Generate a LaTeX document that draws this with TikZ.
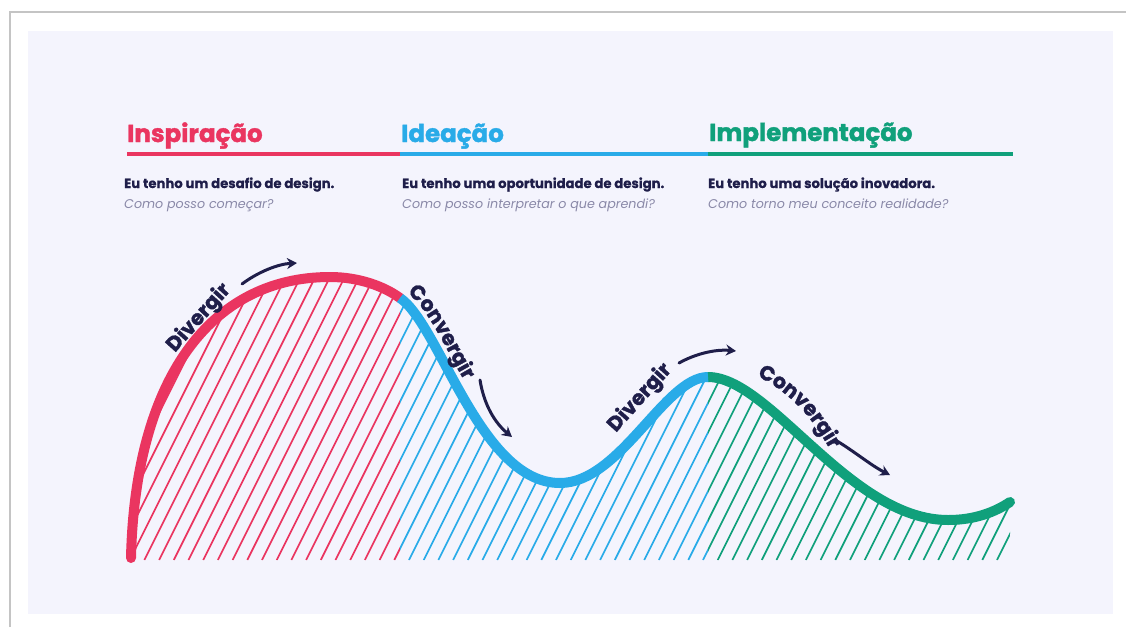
\documentclass[tikz,border=0pt]{standalone}
\usepackage{fontspec}
\setmainfont{Poppins}
\newfontfamily\heavyfont{Poppins}[BoldFeatures={FakeBold=1.6}]
\newfontfamily\semifont{Poppins}[BoldFeatures={FakeBold=0.6}]
\usetikzlibrary{arrows.meta,decorations.text}
\definecolor{cred}{HTML}{EA3560}
\definecolor{cblue}{HTML}{29ABE8}
\definecolor{cgreen}{HTML}{10A07B}
\definecolor{cnavy}{HTML}{1F1E4A}
\definecolor{cgray}{HTML}{8A89A8}
\definecolor{cbg}{HTML}{F4F4FD}
\definecolor{cframe}{HTML}{C4C4C4}
\newcommand{\labelfont}{\heavyfont\bfseries\fontsize{20.5}{22}\selectfont}
\tikzset{
  heading/.style={anchor=base west, inner sep=0pt, font=\heavyfont\bfseries\fontsize{24.5}{27}\selectfont},
  lineA/.style={anchor=base west, inner sep=0pt, text=cnavy, font=\semifont\bfseries\fontsize{13.2}{15}\selectfont},
  lineB/.style={anchor=base west, inner sep=0pt, text=cgray, font=\fontsize{12.7}{15}\selectfont\itshape},
  rule/.style={line width=3.5pt},
  curvelabel/.style={inner sep=0pt, text=cnavy, font=\labelfont},
  arr/.style={cnavy, line width=3pt, line cap=round, -{Stealth[length=10pt,width=11pt]}},
  hatch/.style={line width=1.7pt},
  curve/.style={line width=10pt},
  pathlabel/.style={decorate, decoration={text along path, text align={left indent=#1},
    text color=cnavy, text={|\labelfont|Convergir}}}
}
\begin{document}
\begin{tikzpicture}[x=1pt,y=-1pt]
\useasboundingbox (0,0) rectangle (1126,627);
\fill[white] (0,0) rectangle (1126,627);
% card frame
\draw[cframe, line width=2.5pt] (10,627) -- (10,12) -- (1126,12);
\fill[cbg] (28,31) rectangle (1113,614);

% headings
\node[heading, text=cred] (h1) at (127,142) {Inspiração};
\node[heading, text=cblue] (h2) at (401,142) {Ideação};
\node[heading, text=cgreen] (h3) at (709,141) {Implementação};
\coordinate (r0) at (127,154);
\coordinate (r1) at (400,154);
\coordinate (r2) at (708,154);
\coordinate (r3) at (1013,154);
\draw[rule, cred] (r0) -- (r1);
\draw[rule, cblue] (r1) -- (r2);
\draw[rule, cgreen] (r2) -- (r3);

\node[lineA] (a1) at (124,188) {Eu tenho um desafio de design.};
\node[lineB] (b1) at (124,208) {Como posso começar?};
\node[lineA] (a2) at (402,188) {Eu tenho uma oportunidade de design.};
\node[lineB] (b2) at (402,208) {Como posso interpretar o que aprendi?};
\node[lineA] (a3) at (708,188) {Eu tenho uma solução inovadora.};
\node[lineB] (b3) at (708,208) {Como torno meu conceito realidade?};

% curve key points
\coordinate (p0) at (131,558);
\coordinate (pk1) at (330,277);
\coordinate (j1) at (400,298);
\coordinate (t1) at (560,483);
\coordinate (j2) at (708,377);
\coordinate (t2) at (948,520);
\coordinate (pe) at (1010,502);

% hatching
\def\region{(p0) .. controls (135,380) and (210,277) .. (pk1)
  .. controls (360,277) and (385,287) .. (j1)
  .. controls (440,325) and (480,483) .. (t1)
  .. controls (620,483) and (665,377) .. (j2)
  .. controls (770,377) and (850,520) .. (t2)
  .. controls (975,520) and (995,512) .. (pe)
  -- (1010,560) -- (131,560) -- cycle}
\begin{scope}
  \clip \region;
  \begin{scope}
    \clip (0,0) rectangle (400,627);
    \foreach \k in {0,...,66} {\draw[hatch, cred] ({997-14.7*\k},560) -- ++(200,-400);}
  \end{scope}
  \begin{scope}
    \clip (400,0) rectangle (708,627);
    \foreach \k in {0,...,66} {\draw[hatch, cblue] ({997-14.7*\k},560) -- ++(200,-400);}
  \end{scope}
  \begin{scope}
    \clip (708,0) rectangle (1126,627);
    \foreach \k in {0,...,66} {\draw[hatch, cgreen] ({997-14.7*\k},560) -- ++(200,-400);}
  \end{scope}
\end{scope}

% curve strokes
\draw[curve, cgreen, line cap=round] (j2) .. controls (770,377) and (850,520) .. (t2)
  .. controls (975,520) and (995,512) .. (pe);
\draw[curve, cred, line cap=round] (p0) .. controls (135,380) and (210,277) .. (pk1)
  .. controls (360,277) and (385,287) .. (j1);
\draw[curve, cblue] (j1) .. controls (440,325) and (480,483) .. (t1)
  .. controls (620,483) and (665,377) .. (j2);

% labels
\node[curvelabel, rotate=48] (d1) at (199,318) {Divergir};
\node[curvelabel, rotate=48] (d2) at (640,398) {Divergir};
\path[pathlabel=3pt] plot[smooth] coordinates {(405,290.5) (419,304.1) (432,322.9)
  (445,345.6) (458.5,370.5) (472.8,395.5) (486,422)};
\path[pathlabel=0pt] plot[smooth] coordinates {(757,376) (773,385) (790,398)
  (806,414) (820,433) (832,453) (842,473) (850,492)};

% arrows
\coordinate (ar1s) at (242,284);
\coordinate (ar1e) at (297,263);
\coordinate (ar2s) at (480,380);
\coordinate (ar2e) at (512,437);
\coordinate (ar3s) at (679,363);
\coordinate (ar3e) at (736,351);
\coordinate (ar4s) at (837,441);
\coordinate (ar4e) at (890,475);
\draw[arr] (ar1s) .. controls (258,272) and (278,264) .. (ar1e);
\draw[arr] (ar2s) .. controls (484,405) and (495,423) .. (ar2e);
\draw[arr] (ar3s) .. controls (695,354) and (715,349) .. (ar3e);
\draw[arr] (ar4s) .. controls (855,452) and (872,466) .. (ar4e);
\end{tikzpicture}
\end{document}
